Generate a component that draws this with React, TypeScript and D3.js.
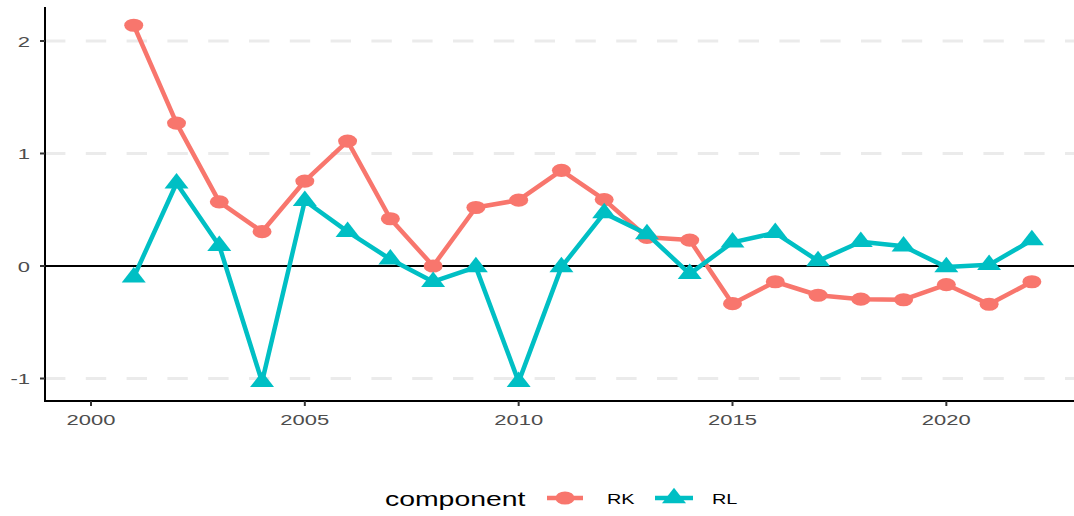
import { useEffect, useRef } from 'react';
import * as d3 from 'd3';

const years = [2001, 2002, 2003, 2004, 2005, 2006, 2007, 2008, 2009, 2010, 2011,
  2012, 2013, 2014, 2015, 2016, 2017, 2018, 2019, 2020, 2021, 2022];

const rkValues = [2.14, 1.27, 0.57, 0.305, 0.755, 1.11, 0.42, 0.0, 0.52, 0.585, 0.85,
  0.59, 0.255, 0.23, -0.335, -0.14, -0.26, -0.295, -0.3, -0.165, -0.34, -0.14];

const rlValues = [-0.1, 0.735, 0.18, -1.03, 0.58, 0.305, 0.06, -0.14, -0.01, -1.03, -0.01,
  0.47, 0.285, -0.07, 0.21, 0.295, 0.045, 0.215, 0.175, -0.01, 0.01, 0.23];

const xTicks = [2000, 2005, 2010, 2015, 2020];
const yTicks = [-1, 0, 1, 2];
const yGrid = [-1, 1, 2];

const RED = '#F8766D';
const TEAL = '#00BFC4';
const SX = 1.42; // the original picture is stretched sideways
const FONT = '"Liberation Sans", Arial, sans-serif';

const App = () => {
  const svgRef = useRef<SVGSVGElement>(null);

  useEffect(() => {
    if (!svgRef.current) return;
    const svg = d3.select(svgRef.current);
    svg.selectAll('*').remove();

    const left = 45;
    const right = 1074;
    const top = 7;
    const bottom = 401;

    const x = d3.scaleLinear().domain([1998.925, 2022.985]).range([left, right]);
    const y = d3.scaleLinear().domain([-1.2, 2.302]).range([bottom, top]);

    const g = svg.append('g');

    // dashed gridlines
    g.selectAll('.grid')
      .data(yGrid)
      .enter()
      .append('line')
      .attr('x1', left)
      .attr('x2', right)
      .attr('y1', d => y(d))
      .attr('y2', d => y(d))
      .attr('stroke', '#ebebeb')
      .attr('stroke-width', 3)
      .attr('stroke-dasharray', '20.4,20.4');

    // zero line
    g.append('line')
      .attr('x1', left)
      .attr('x2', right)
      .attr('y1', y(0))
      .attr('y2', y(0))
      .attr('stroke', '#000')
      .attr('stroke-width', 2);

    const line = d3.line<number>()
      .x((_, i) => x(years[i]))
      .y(d => y(d));

    // RK series
    g.append('path')
      .attr('d', line(rkValues))
      .attr('fill', 'none')
      .attr('stroke', RED)
      .attr('stroke-width', 4.5)
      .attr('stroke-linejoin', 'round');

    g.selectAll('.rk')
      .data(rkValues)
      .enter()
      .append('ellipse')
      .attr('cx', (_, i) => x(years[i]))
      .attr('cy', d => y(d))
      .attr('rx', 9.5)
      .attr('ry', 6.6)
      .attr('fill', RED);

    // RL series
    g.append('path')
      .attr('d', line(rlValues))
      .attr('fill', 'none')
      .attr('stroke', TEAL)
      .attr('stroke-width', 4.5)
      .attr('stroke-linejoin', 'round');

    const tri = (cx: number, cy: number) =>
      `M${cx},${cy - 10.3}L${cx + 12},${cy + 5.2}L${cx - 12},${cy + 5.2}Z`;

    g.selectAll('.rl')
      .data(rlValues)
      .enter()
      .append('path')
      .attr('d', (d, i) => tri(x(years[i]), y(d)))
      .attr('fill', TEAL);

    // axes
    g.append('line')
      .attr('x1', left).attr('x2', left)
      .attr('y1', top).attr('y2', bottom + 1)
      .attr('stroke', '#000').attr('stroke-width', 2);
    g.append('line')
      .attr('x1', left - 1).attr('x2', right)
      .attr('y1', bottom).attr('y2', bottom)
      .attr('stroke', '#000').attr('stroke-width', 2);

    // y ticks + labels
    yTicks.forEach(t => {
      g.append('line')
        .attr('x1', left - 5).attr('x2', left)
        .attr('y1', y(t)).attr('y2', y(t))
        .attr('stroke', '#333').attr('stroke-width', 2);
      g.append('text')
        .attr('transform', `translate(${left - 15},${y(t)}) scale(${SX},1)`)
        .attr('text-anchor', 'end')
        .attr('dy', '0.36em')
        .style('font-family', FONT)
        .style('font-size', '15.5px')
        .style('fill', '#4d4d4d')
        .text(t);
    });

    // x ticks + labels
    xTicks.forEach(t => {
      g.append('line')
        .attr('x1', x(t)).attr('x2', x(t))
        .attr('y1', bottom).attr('y2', bottom + 5)
        .attr('stroke', '#333').attr('stroke-width', 2);
      g.append('text')
        .attr('transform', `translate(${x(t)},${bottom + 23.5}) scale(${SX},1)`)
        .attr('text-anchor', 'middle')
        .style('font-family', FONT)
        .style('font-size', '15.5px')
        .style('fill', '#4d4d4d')
        .text(t);
    });

    // legend
    const legY = 498;
    g.append('text')
      .attr('transform', `translate(385,${legY + 8}) scale(${SX},1)`)
      .style('font-family', FONT)
      .style('font-size', '20px')
      .style('fill', '#000')
      .text('component');

    g.append('line')
      .attr('x1', 547).attr('x2', 583)
      .attr('y1', legY).attr('y2', legY)
      .attr('stroke', RED).attr('stroke-width', 4.5);
    g.append('ellipse')
      .attr('cx', 565).attr('cy', legY)
      .attr('rx', 9.5).attr('ry', 6.6)
      .attr('fill', RED);
    g.append('text')
      .attr('transform', `translate(607,${legY + 5.5}) scale(${SX},1)`)
      .style('font-family', FONT)
      .style('font-size', '14px')
      .style('fill', '#000')
      .text('RK');

    g.append('line')
      .attr('x1', 655).attr('x2', 693)
      .attr('y1', legY).attr('y2', legY)
      .attr('stroke', TEAL).attr('stroke-width', 4.5);
    g.append('path')
      .attr('d', tri(674, legY))
      .attr('fill', TEAL);
    g.append('text')
      .attr('transform', `translate(712,${legY + 5.5}) scale(${SX},1)`)
      .style('font-family', FONT)
      .style('font-size', '14px')
      .style('fill', '#000')
      .text('RL');
  }, []);

  return (
    <div style={{ position: 'absolute', left: 0, top: 0, background: '#fff' }}>
      <svg ref={svgRef} width={1074} height={516} style={{ display: 'block' }} />
    </div>
  );
};

export default App;
